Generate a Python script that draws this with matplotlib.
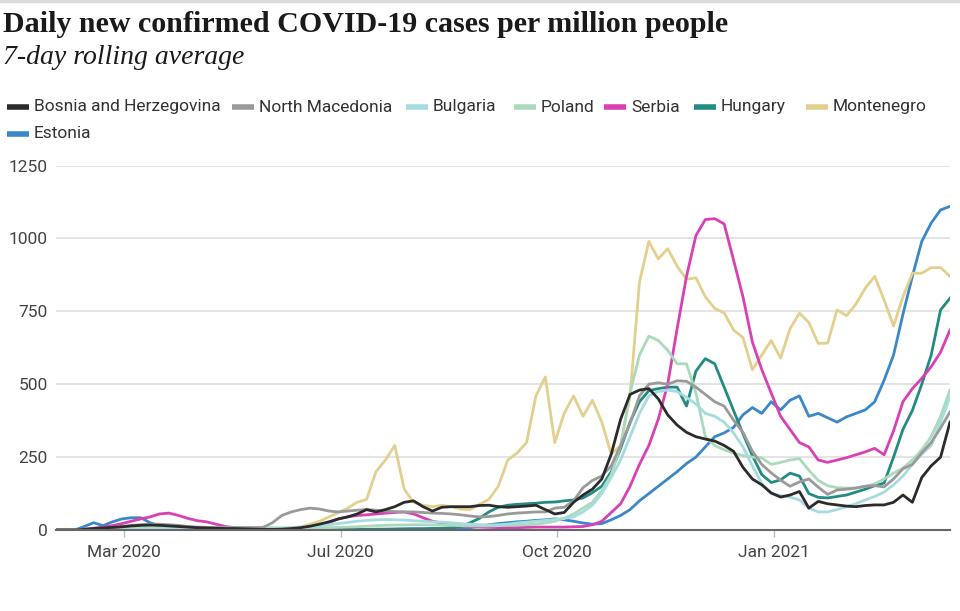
import pandas as pd
import numpy as np
import matplotlib
matplotlib.use("Agg")
import matplotlib.pyplot as plt
from matplotlib.lines import Line2D
from matplotlib import font_manager

# 7-day rolling average, new cases per million, read every 4 days from 2 Mar 2020
dates = pd.date_range("2020-03-02", periods=96, freq="4D")

bosnia = [0, 0, 0, 2, 5, 7, 9, 11, 14, 16, 17,
          16, 14, 12, 10, 8, 7, 6, 5, 5, 4,
          3, 2, 2, 3, 5, 8, 13, 20, 28, 38,
          45, 55, 70, 62, 70, 80, 95, 100, 80, 65,
          78, 80, 80, 80, 84, 85, 80, 78, 80, 82,
          85, 70, 55, 60, 95, 120, 140, 175, 260, 380,
          465, 480, 485, 450, 395, 360, 335, 320, 312, 305,
          290, 270, 215, 175, 155, 127, 113, 120, 132, 75,
          98, 90, 86, 82, 80, 84, 86, 86, 95, 120,
          95, 180, 220, 250, 370]
north_macedonia = [0, 0, 0, 1, 2, 4, 8, 12, 16, 18, 20,
                   20, 18, 16, 12, 10, 9, 8, 8, 8, 8,
                   8, 9, 25, 50, 62, 70, 75, 72, 65, 62,
                   65, 68, 70, 68, 65, 63, 62, 62, 60, 58,
                   57, 55, 52, 48, 45, 46, 50, 55, 58, 60,
                   62, 62, 75, 78, 100, 145, 170, 185, 220, 290,
                   365, 460, 500, 505, 500, 512, 510, 490, 465, 440,
                   425, 377, 335, 270, 225, 196, 171, 150, 165, 175,
                   147, 122, 137, 140, 144, 150, 152, 148, 175, 210,
                   225, 265, 300, 350, 405]
bulgaria = [0, 0, 0, 0, 1, 1, 2, 2, 3, 3, 4,
            4, 4, 4, 3, 3, 3, 3, 3, 3, 4,
            4, 5, 5, 6, 8, 10, 12, 15, 18, 22,
            26, 30, 33, 35, 36, 35, 34, 32, 30, 28,
            27, 25, 22, 20, 18, 17, 18, 20, 24, 27,
            30, 33, 36, 40, 45, 62, 85, 125, 180, 240,
            320, 400, 460, 475, 480, 475, 455, 432, 400, 390,
            370, 333, 285, 220, 160, 125, 118, 113, 103, 75,
            62, 62, 70, 80, 90, 103, 115, 130, 155, 185,
            225, 260, 290, 370, 456]
poland = [0, 0, 0, 1, 2, 4, 6, 8, 9, 10, 10,
          10, 9, 9, 8, 8, 8, 8, 8, 8, 9,
          9, 9, 8, 7, 7, 8, 8, 8, 8, 9,
          10, 11, 13, 15, 16, 17, 17, 18, 18, 17,
          17, 16, 15, 14, 14, 14, 15, 16, 17, 18,
          20, 24, 30, 40, 55, 75, 95, 135, 190, 290,
          470, 600, 665, 650, 617, 570, 570, 470, 320, 290,
          275, 264, 255, 250, 247, 225, 232, 240, 245, 205,
          170, 152, 145, 144, 144, 150, 158, 175, 195, 212,
          240, 275, 320, 390, 480]
serbia = [0, 0, 1, 3, 6, 10, 15, 22, 30, 38, 45,
          55, 58, 50, 40, 32, 28, 20, 12, 8, 6,
          5, 4, 3, 3, 4, 5, 8, 15, 25, 38,
          45, 50, 52, 55, 58, 60, 62, 55, 42, 30,
          24, 18, 14, 12, 10, 9, 8, 8, 8, 9,
          10, 10, 10, 10, 11, 12, 18, 30, 60, 90,
          150, 225, 290, 380, 500, 690, 870, 1010, 1065, 1068,
          1050, 926, 800, 645, 550, 470, 390, 345, 300, 285,
          240, 232, 240, 248, 258, 268, 280, 258, 340, 440,
          485, 520, 560, 610, 686]
hungary = [0, 0, 0, 0, 1, 2, 3, 5, 7, 8, 9,
           9, 8, 7, 6, 4, 3, 2, 2, 1, 1,
           1, 1, 1, 1, 1, 1, 1, 1, 1, 2,
           2, 2, 2, 2, 2, 3, 3, 4, 4, 5,
           6, 8, 12, 25, 40, 62, 78, 85, 88, 90,
           92, 95, 96, 100, 103, 110, 128, 150, 200, 280,
           370, 440, 478, 485, 490, 490, 425, 545, 588, 570,
           490, 410, 330, 255, 190, 163, 172, 195, 185, 125,
           112, 110, 115, 120, 130, 140, 152, 161, 250, 345,
           410, 500, 600, 755, 795]
montenegro = [0, 0, 0, 1, 3, 5, 8, 10, 12, 12, 10,
              8, 6, 4, 3, 2, 1, 1, 0, 0, 0,
              0, 0, 1, 3, 6, 10, 20, 30, 45, 60,
              75, 95, 105, 200, 240, 290, 140, 95, 85, 80,
              85, 80, 72, 70, 88, 105, 150, 240, 264, 300,
              460, 525, 300, 400, 460, 390, 445, 370, 260, 290,
              460, 850, 990, 930, 965, 905, 860, 865, 800, 760,
              745, 686, 660, 550, 600, 650, 590, 690, 744, 712,
              640, 641, 755, 735, 775, 830, 870, 789, 700, 800,
              881, 881, 900, 900, 870]
estonia = [0, 0, 0, 12, 25, 15, 28, 38, 42, 42, 25,
           14, 8, 5, 4, 3, 3, 2, 2, 2, 2,
           1, 1, 1, 1, 1, 1, 1, 1, 1, 2,
           2, 2, 2, 3, 3, 3, 4, 4, 4, 5,
           5, 6, 6, 8, 12, 18, 22, 25, 28, 30,
           33, 35, 38, 35, 30, 24, 20, 22, 35, 50,
           70, 100, 125, 150, 175, 200, 228, 250, 285, 320,
           333, 352, 395, 420, 400, 440, 412, 445, 460, 390,
           400, 385, 370, 388, 400, 412, 440, 514, 600, 740,
           870, 990, 1053, 1098, 1110]

countries = ["Bosnia and Herzegovina", "North Macedonia", "Bulgaria", "Poland",
             "Serbia", "Hungary", "Montenegro", "Estonia"]
series = [bosnia, north_macedonia, bulgaria, poland, serbia, hungary, montenegro, estonia]
colors = ["#2b2b2b", "#9a9a9a", "#a6dcdf", "#abdabb", "#d940b4", "#238a84", "#e3cf8e", "#3a88c9"]

y_ticks = [0, 250, 500, 750, 1000, 1250]
x_tick_dates = ["2020-03-31", "2020-07-01", "2020-10-01", "2021-01-01"]
x_tick_labels = ["Mar 2020", "Jul 2020", "Oct 2020", "Jan 2021"]


def have_font(name):
    try:
        font_manager.findfont(font_manager.FontProperties(family=name), fallback_to_default=False)
        return True
    except Exception:
        return False


# the original uses a condensed sans; take a narrow face if one is installed
sans_font, sans_size, legend_size = "Roboto", 12.5, 12.5
for cand in ["Liberation Sans Narrow", "DejaVu Sans Condensed"]:
    if have_font(cand):
        sans_font, sans_size, legend_size = cand, 13.5, 14
        break
sans = [sans_font, "DejaVu Sans"]
serif = ["Liberation Serif", "DejaVu Serif"]

W, H = 960, 611
fig = plt.figure(figsize=(W / 100, H / 100), dpi=100)
ax = fig.add_axes([56 / W, 1 - 530 / H, (950 - 56) / W, (530 - 165.6) / H])

# draw last series first so Bosnia ends up on top
for name, vals, col in reversed(list(zip(countries, series, colors))):
    ax.plot(dates, vals, color=col, lw=2, solid_joinstyle="round", zorder=3)

ax.set_xlim(pd.Timestamp("2020-03-02"), pd.Timestamp("2021-03-17"))
ax.set_ylim(0, 1250)
ax.set_yticks(y_ticks)
ax.set_yticklabels([str(v) for v in y_ticks], family=sans, fontsize=sans_size, color="#444444")
ax.set_xticks(pd.to_datetime(x_tick_dates))
ax.set_xticklabels(x_tick_labels, family=sans, fontsize=sans_size, color="#444444")
ax.tick_params(axis="y", length=0, pad=6)
ax.tick_params(axis="x", length=5, width=1, color="#bbbbbb", pad=6)
ax.yaxis.grid(True, color="#e2e2e2", lw=1.3)
ax.set_axisbelow(True)
for s in ["top", "right", "left"]:
    ax.spines[s].set_visible(False)
ax.spines["bottom"].set_color("#666666")
ax.spines["bottom"].set_linewidth(1.5)
ax.spines["bottom"].set_zorder(4)

# header
fig.add_artist(Line2D([0, 1], [1 - 1 / H, 1 - 1 / H], transform=fig.transFigure,
                      color="#dadada", lw=2.5))
fig.text(3 / W, 1 - 25 / H, "Daily new confirmed COVID-19 cases per million people",
         family=serif, weight="bold", fontsize=21.6, color="#1a1a1a", va="center")
fig.text(3 / W, 1 - 58 / H, "7-day rolling average",
         family=serif, style="italic", fontsize=20, color="#1a1a1a", va="center")

# legend, laid out by hand in two rows
legend_x = [34, 259, 433, 541, 631, 721, 833, 34]
legend_y = [107, 107, 107, 107, 107, 107, 107, 134]
for name, col, lx, ly in zip(countries, colors, legend_x, legend_y):
    yy = 1 - ly / H
    fig.add_artist(Line2D([(lx - 27) / W, (lx - 5) / W], [yy, yy], transform=fig.transFigure,
                          color=col, lw=4, solid_capstyle="butt"))
    fig.text(lx / W, yy, name, family=sans, fontsize=legend_size, color="#333333", va="center")

fig.savefig("out.png", dpi=100)
